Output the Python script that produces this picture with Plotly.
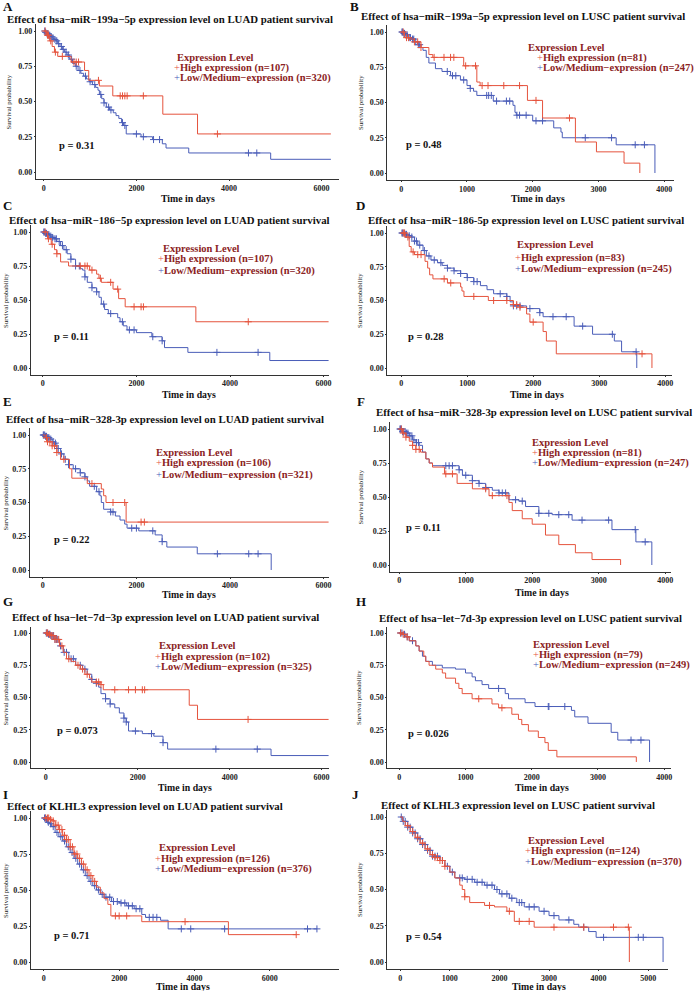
import plotly.graph_objects as go

W, H = 698, 991
RED = "#E5533D"
BLUE = "#4A5DB8"
LEG = "#8B2323"
FONT = "Liberation Serif"

# ---------------- data (days, survival probability, censor days) ----------------
A_hi_t = [60, 120, 180, 230, 300, 590, 880, 970, 1200, 1490, 2570, 3320, 6200]
A_hi_s = [0.97, 0.93, 0.89, 0.85, 0.82, 0.78, 0.72, 0.65, 0.61, 0.54, 0.41, 0.27, 0.27]
A_hi_c = [30, 80, 100, 150, 250, 400, 650, 700, 750, 1180, 1650, 1700, 1750, 1800, 2150, 3750]
A_lo_t = [30, 60, 100, 140, 180, 220, 260, 300, 350, 400, 450, 500, 560, 620, 680, 740, 800, 860, 920, 980,
          1050, 1120, 1170, 1200, 1250, 1300, 1350, 1420, 1500, 1560, 1620, 1680, 1720, 1780, 2100, 2350, 2560,
          2640, 3130, 4900, 6200]
A_lo_s = [0.99, 0.98, 0.97, 0.96, 0.95, 0.94, 0.93, 0.91, 0.89, 0.87, 0.85, 0.83, 0.80, 0.77, 0.75, 0.72, 0.70,
          0.68, 0.66, 0.64, 0.62, 0.60, 0.58, 0.55, 0.52, 0.49, 0.46, 0.44, 0.42, 0.40, 0.38, 0.35, 0.33, 0.27,
          0.25, 0.23, 0.20, 0.17, 0.135, 0.09, 0.09]
A_lo_c = [20, 40, 70, 90, 110, 130, 160, 200, 240, 280, 320, 380, 420, 480, 530, 600, 700, 780, 900, 1000, 1100,
          1230, 1300, 1400, 1450, 1700, 1750, 2000, 2150, 2370, 2500, 4420, 4600]

B_hi_t = [50, 120, 200, 300, 420, 480, 950, 1150, 1200, 1920, 2150, 2650, 2970, 3390, 3630]
B_hi_s = [0.96, 0.95, 0.93, 0.89, 0.84, 0.82, 0.76, 0.645, 0.62, 0.515, 0.39, 0.22, 0.15, 0.07, 0.0]
B_hi_c = [30, 80, 110, 200, 250, 300, 500, 650, 750, 800, 980, 1130, 1230, 1320, 1560, 1800, 2050, 2560]
B_lo_t = [30, 60, 100, 150, 200, 250, 300, 330, 380, 420, 520, 620, 750, 900, 1000, 1050, 1100, 1150, 1400, 1700,
          1730, 1750, 2000, 2320, 2430, 2450, 3270, 3860]
B_lo_s = [0.99, 0.98, 0.96, 0.95, 0.93, 0.91, 0.89, 0.87, 0.82, 0.78, 0.74, 0.72, 0.69, 0.66, 0.62, 0.60, 0.58,
          0.55, 0.51, 0.48, 0.43, 0.41, 0.37, 0.32, 0.29, 0.25, 0.20, 0.0]
B_lo_c = [10, 20, 40, 50, 70, 90, 120, 140, 170, 190, 220, 260, 280, 700, 780, 830, 950, 1050, 1300, 1330, 1370,
          1450, 1600, 1650, 1760, 1800, 1900, 2050, 2150, 2800, 3200, 3560, 3700]

C_hi_t = [100, 180, 250, 300, 380, 550, 1000, 1150, 1200, 1250, 1500, 1620, 1760, 3270, 6200]
C_hi_s = [0.95, 0.91, 0.87, 0.84, 0.78, 0.75, 0.72, 0.69, 0.66, 0.63, 0.58, 0.51, 0.45, 0.34, 0.34]
C_hi_c = [50, 120, 200, 300, 800, 900, 950, 1050, 1230, 1450, 1600, 1950, 2100, 2150, 4390]
C_lo_t = [50, 100, 150, 200, 250, 300, 380, 450, 520, 600, 700, 800, 850, 900, 950, 1050, 1150, 1200, 1250, 1320,
          1400, 1600, 1650, 1720, 1800, 2000, 2330, 2550, 2600, 3100, 4850, 6200]
C_lo_s = [0.99, 0.98, 0.97, 0.96, 0.95, 0.93, 0.90, 0.87, 0.84, 0.80, 0.75, 0.73, 0.72, 0.67, 0.63, 0.59, 0.56,
          0.52, 0.47, 0.43, 0.40, 0.37, 0.34, 0.31, 0.28, 0.26, 0.23, 0.20, 0.15, 0.115, 0.055, 0.055]
C_lo_c = [20, 40, 60, 80, 110, 130, 170, 210, 260, 290, 350, 420, 500, 600, 700, 780, 900, 1050, 1150, 1300, 1450,
          1700, 1850, 1950, 2350, 2550, 3720, 4600]

D_hi_t = [60, 120, 150, 200, 360, 400, 430, 480, 700, 900, 920, 950, 1320, 1700, 1800, 1900, 1950, 2150, 2200,
          2350, 3800]
D_hi_s = [0.97, 0.90, 0.86, 0.84, 0.79, 0.74, 0.69, 0.66, 0.63, 0.60, 0.57, 0.53, 0.50, 0.47, 0.45, 0.40, 0.34,
          0.27, 0.20, 0.105, 0.0]
D_hi_c = [30, 50, 100, 180, 250, 300, 650, 750, 1100, 1400, 1600, 1700, 1750, 1800, 2000, 3650]
D_lo_t = [50, 100, 150, 200, 250, 330, 380, 450, 550, 620, 700, 800, 900, 1000, 1100, 1200, 1300, 1400, 1600,
          1650, 1700, 1900, 2100, 2150, 2620, 2900, 3230, 3340, 3570]
D_lo_s = [0.99, 0.98, 0.97, 0.94, 0.91, 0.87, 0.83, 0.80, 0.78, 0.76, 0.74, 0.72, 0.70, 0.67, 0.64, 0.61, 0.58,
          0.55, 0.53, 0.49, 0.46, 0.44, 0.41, 0.38, 0.31, 0.25, 0.20, 0.12, 0.0]
D_lo_c = [10, 20, 40, 60, 80, 120, 160, 200, 230, 280, 350, 420, 500, 600, 700, 800, 900, 1000, 1100, 1150, 1500,
          1600, 1700, 1750, 1800, 1950, 2100, 2300, 2500, 2750, 3200, 3560]

E_hi_t = [50, 100, 200, 300, 380, 570, 620, 950, 1250, 1300, 1350, 1780, 6300]
E_hi_s = [0.98, 0.95, 0.92, 0.87, 0.82, 0.75, 0.68, 0.64, 0.60, 0.55, 0.50, 0.355, 0.355]
E_hi_c = [80, 100, 150, 200, 250, 300, 450, 1050, 1500, 1750, 2100, 2170, 6280]
E_lo_t = [50, 100, 150, 200, 250, 300, 380, 450, 550, 650, 800, 900, 950, 1000, 1150, 1220, 1250, 1300, 1450,
          1550, 1650, 1750, 1800, 2050, 2400, 2550, 2650, 3300, 4880]
E_lo_s = [0.99, 0.98, 0.97, 0.95, 0.94, 0.90, 0.86, 0.82, 0.78, 0.75, 0.72, 0.69, 0.66, 0.62, 0.58, 0.55, 0.50,
          0.45, 0.43, 0.40, 0.37, 0.34, 0.31, 0.29, 0.26, 0.21, 0.17, 0.12, 0.0]
E_lo_c = [10, 20, 40, 60, 80, 110, 130, 170, 220, 270, 330, 400, 480, 550, 700, 800, 900, 1100, 1200, 1450, 1500,
          1900, 2000, 2350, 2550, 3730, 4400, 4600]

F_hi_t = [50, 100, 150, 200, 250, 320, 400, 450, 500, 680, 870, 1100, 1350, 1650, 1700, 1850, 2000, 2200, 2400,
          2650, 2900, 3330]
F_hi_s = [0.97, 0.94, 0.91, 0.88, 0.85, 0.83, 0.78, 0.75, 0.72, 0.67, 0.60, 0.56, 0.51, 0.46, 0.40, 0.34, 0.30,
          0.22, 0.15, 0.09, 0.04, 0.0]
F_hi_c = [30, 60, 100, 200, 250, 300, 700, 800, 1300, 1400, 1620]
F_lo_t = [50, 100, 150, 200, 250, 300, 350, 400, 450, 500, 900, 950, 1100, 1200, 1300, 1400, 1500, 1650, 1800,
          1900, 2100, 2300, 2600, 3200, 3560, 3800]
F_lo_s = [0.98, 0.97, 0.95, 0.92, 0.90, 0.88, 0.83, 0.78, 0.75, 0.73, 0.70, 0.66, 0.62, 0.60, 0.57, 0.55, 0.53,
          0.48, 0.47, 0.43, 0.38, 0.37, 0.33, 0.26, 0.17, 0.0]
F_lo_c = [10, 20, 30, 50, 70, 90, 110, 130, 160, 190, 220, 260, 290, 700, 750, 800, 900, 1000, 1100, 1200, 1300,
          1500, 1550, 1600, 1750, 1850, 2100, 2250, 2400, 2550, 2750, 3150, 3550, 3700]

G_hi_t = [50, 100, 200, 300, 380, 450, 550, 650, 750, 850, 950, 1000, 1200, 1250, 3120, 3300, 6300]
G_hi_s = [0.99, 0.98, 0.95, 0.90, 0.85, 0.80, 0.78, 0.75, 0.72, 0.68, 0.65, 0.62, 0.60, 0.56, 0.44, 0.33, 0.33]
G_hi_c = [20, 40, 80, 120, 160, 200, 240, 280, 350, 500, 700, 800, 900, 1100, 1150, 1200, 1500, 1800, 1950, 2100,
          2150, 4400]
G_lo_t = [50, 100, 200, 300, 380, 500, 650, 800, 900, 1000, 1100, 1150, 1200, 1300, 1400, 1500, 1600, 1700, 1750,
          1800, 2100, 2350, 2550, 2650, 4900, 6350]
G_lo_s = [0.99, 0.98, 0.95, 0.90, 0.85, 0.80, 0.75, 0.72, 0.68, 0.64, 0.61, 0.58, 0.53, 0.49, 0.45, 0.42, 0.38,
          0.34, 0.31, 0.24, 0.22, 0.20, 0.15, 0.10, 0.05, 0.05]
G_lo_c = [10, 30, 60, 90, 110, 140, 170, 200, 230, 260, 320, 400, 450, 550, 600, 750, 850, 1000, 1100, 1300, 1400,
          1700, 1750, 1950, 2300, 2550, 3700, 4600, 6350]

H_hi_t = [50, 100, 150, 250, 300, 370, 400, 450, 550, 650, 700, 850, 900, 950, 1100, 1400, 1500, 1700, 1800, 1850,
          1950, 2100, 2200, 2250, 2380, 3580]
H_hi_s = [0.99, 0.97, 0.94, 0.90, 0.86, 0.82, 0.78, 0.75, 0.72, 0.69, 0.65, 0.61, 0.57, 0.53, 0.49, 0.45, 0.42,
          0.37, 0.33, 0.29, 0.24, 0.19, 0.15, 0.09, 0.04, 0.0]
H_hi_c = [20, 60, 120, 1200, 1550]
H_lo_t = [50, 100, 150, 250, 300, 350, 400, 500, 650, 850, 1000, 1100, 1150, 1250, 1350, 1600, 1650, 1900, 2050,
          2600, 2650, 2850, 3200, 3300, 3780]
H_lo_s = [0.99, 0.97, 0.94, 0.90, 0.86, 0.82, 0.78, 0.75, 0.73, 0.72, 0.69, 0.66, 0.63, 0.60, 0.57, 0.53, 0.49,
          0.46, 0.43, 0.40, 0.35, 0.30, 0.23, 0.17, 0.0]
H_lo_c = [20, 40, 80, 120, 200, 1500, 2250, 2260, 2500, 3500, 3650]

I_hi_t = [150, 200, 300, 400, 500, 600, 700, 800, 900, 1000, 1100, 1200, 1300, 1400, 1500, 1600, 1700, 1780, 2600,
          4900, 6700]
I_hi_s = [0.99, 0.98, 0.95, 0.92, 0.88, 0.85, 0.80, 0.75, 0.72, 0.68, 0.64, 0.60, 0.56, 0.52, 0.48, 0.44, 0.40,
          0.32, 0.28, 0.19, 0.19]
I_hi_c = [50, 100, 130, 180, 250, 320, 380, 420, 480, 550, 600, 650, 700, 760, 820, 880, 950, 1050, 1150, 1250,
          1350, 1900, 2000, 2200, 3750, 6700]
I_lo_t = [50, 100, 150, 200, 300, 400, 500, 600, 700, 800, 900, 1000, 1100, 1200, 1300, 1400, 1500, 1600, 1800,
          2000, 2200, 2400, 2600, 2700, 3100, 3300, 7250]
I_lo_s = [0.99, 0.97, 0.96, 0.94, 0.90, 0.87, 0.84, 0.80, 0.76, 0.72, 0.68, 0.64, 0.60, 0.56, 0.53, 0.50, 0.47,
          0.45, 0.42, 0.41, 0.39, 0.37, 0.33, 0.31, 0.29, 0.23, 0.23]
I_lo_c = [20, 40, 70, 120, 180, 250, 350, 450, 550, 650, 750, 850, 950, 1050, 1150, 1250, 1350, 1450, 1550, 1650,
          1750, 1850, 1950, 2050, 2150, 2250, 2350, 2450, 2550, 2800, 2900, 3000, 3650, 3900, 4800, 7000, 7250]

J_hi_t = [50, 100, 200, 300, 400, 500, 600, 700, 800, 900, 1000, 1100, 1200, 1250, 1300, 1400, 1700, 1900, 2150,
          2300, 2700, 4620]
J_hi_s = [0.97, 0.94, 0.90, 0.86, 0.82, 0.78, 0.74, 0.72, 0.70, 0.66, 0.62, 0.58, 0.53, 0.50, 0.45, 0.41, 0.39,
          0.38, 0.35, 0.28, 0.24, 0.0]
J_hi_c = [150, 250, 350, 450, 550, 650, 700, 750, 800, 850, 900, 1300, 1800, 2200, 2400, 2600, 3100, 3700, 4300,
          4600]
J_lo_t = [50, 150, 250, 350, 450, 550, 650, 800, 900, 1000, 1100, 1300, 1500, 1700, 1900, 2000, 2200, 2350, 2500,
          2800, 3000, 3200, 3500, 3600, 3800, 3950, 5300]
J_lo_s = [0.97, 0.93, 0.89, 0.85, 0.81, 0.77, 0.73, 0.70, 0.66, 0.62, 0.58, 0.57, 0.55, 0.53, 0.50, 0.47, 0.44,
          0.41, 0.38, 0.35, 0.32, 0.29, 0.26, 0.24, 0.21, 0.17, 0.0]
J_lo_c = [20, 60, 100, 150, 200, 250, 300, 350, 400, 450, 500, 550, 600, 650, 700, 750, 850, 950, 1050, 1200, 1250,
          1350, 1450, 1550, 1650, 1750, 1850, 1950, 2050, 2150, 2250, 2400, 2450, 2600, 2700, 2900, 3100, 3400,
          3700, 4100, 4800, 4900]

LETTERS = ["A", "B", "C", "D", "E", "F", "G", "H", "I", "J"]
TITLES = [
    "Effect of hsa\u2212miR\u2212199a\u22125p expression level on LUAD patient survival",
    "Effect of hsa\u2212miR\u2212199a\u22125p expression level on LUSC patient survival",
    "Effect of hsa\u2212miR\u2212186\u22125p expression level on LUAD patient survival",
    "Effect of hsa\u2212miR\u2212186-5p expression level on LUSC patient survival",
    "Effect of hsa\u2212miR\u2212328-3p expression level on LUAD patient survival",
    "Effect of hsa\u2212miR\u2212328-3p expression level on LUSC patient survival",
    "Effect of hsa\u2212let\u22127d\u22123p expression level on LUAD patient survival",
    "Effect of hsa\u2212let\u22127d-3p expression level on LUSC patient survival",
    "Effect of KLHL3 expression level on LUAD patient survival",
    "Effect of KLHL3 expression level on LUSC patient survival",
]
N_HIGH = [107, 81, 107, 83, 106, 81, 102, 79, 126, 124]
N_LOW = [320, 247, 320, 245, 321, 247, 325, 249, 376, 370]
P_VALUES = ["0.31", "0.48", "0.11", "0.28", "0.22", "0.11", "0.073", "0.026", "0.71", "0.54"]
X_TICKS_LUAD = [0, 2000, 4000, 6000]
X_TICKS_LUSC = [0, 1000, 2000, 3000, 4000]
X_TICKS_J = [0, 1000, 2000, 3000, 4000, 5000]
Y_TICKS = [0.0, 0.25, 0.5, 0.75, 1.0]

SERIES = [
    (A_hi_t, A_hi_s, A_hi_c, A_lo_t, A_lo_s, A_lo_c),
    (B_hi_t, B_hi_s, B_hi_c, B_lo_t, B_lo_s, B_lo_c),
    (C_hi_t, C_hi_s, C_hi_c, C_lo_t, C_lo_s, C_lo_c),
    (D_hi_t, D_hi_s, D_hi_c, D_lo_t, D_lo_s, D_lo_c),
    (E_hi_t, E_hi_s, E_hi_c, E_lo_t, E_lo_s, E_lo_c),
    (F_hi_t, F_hi_s, F_hi_c, F_lo_t, F_lo_s, F_lo_c),
    (G_hi_t, G_hi_s, G_hi_c, G_lo_t, G_lo_s, G_lo_c),
    (H_hi_t, H_hi_s, H_hi_c, H_lo_t, H_lo_s, H_lo_c),
    (I_hi_t, I_hi_s, I_hi_c, I_lo_t, I_lo_s, I_lo_c),
    (J_hi_t, J_hi_s, J_hi_c, J_lo_t, J_lo_s, J_lo_c),
]
XTICKS = [X_TICKS_LUAD, X_TICKS_LUSC, X_TICKS_LUAD, X_TICKS_LUSC, X_TICKS_LUAD,
          X_TICKS_LUSC, X_TICKS_LUAD, X_TICKS_LUSC, X_TICKS_LUAD, X_TICKS_J]

# ---------------- layout geometry (pixels) ----------------
# axis_left, axis_right, px of x=0, px of tick T, T, px of y=1, px of y=0
GEOM = [
    (36, 340, 44, 323, 6000, 31, 172),
    (389, 677, 403, 667, 4000, 32, 173),
    (31, 330, 43, 325, 6000, 232, 368),
    (389, 675, 403, 668, 4000, 233, 368),
    (30, 330, 43, 325, 6000, 435, 570),
    (392, 674, 401, 668, 4000, 429, 565),
    (31, 330, 46, 323, 6000, 633, 762),
    (389, 674, 401, 667, 4000, 633, 762),
    (31, 340, 44, 271, 6000, 818, 962),
    (389, 671, 402, 651, 5000, 817, 962),
]
LETTER_POS = [(1, 6), (349, 6), (1, 205), (356, 205), (1, 401), (357, 401), (1, 601), (356, 601), (1, 794), (352, 794)]
TITLE_POS = [(171, 19), (525, 16), (170, 220), (528, 220), (166, 419), (536, 412), (166, 617), (533, 618),
             (146, 806), (520, 805)]
LEG_POS = [(174, 57, 68, 78), (538, 48, 58, 68), (158, 248, 259, 271), (516, 245, 258, 269), (156, 452, 463, 475),
           (533, 442, 453, 463), (155, 645, 657, 667), (534, 644, 655, 665), (155, 847, 859, 869),
           (526, 840, 851, 862)]
LEG_HDR_X = [177, 529, 163, 518, 156, 533, 159, 534, 159, 529]
P_POS = [(57, 145), (406, 144), (52, 336), (408, 336), (52, 539), (406, 527), (55, 730), (408, 733), (52, 935),
         (406, 936)]
XLAB_POS = [(189, 198), (540, 198), (190, 395), (539, 395), (190, 594), (544, 592), (186, 787), (544, 787),
            (184, 986), (541, 986)]
YLAB_X = [9, 362, 6, 361, 6, 362, 6, 360, 5, 361]


def fx(px):
    return px / W


def fy(py):
    return 1 - py / H


def step_at(times, surv, t):
    v = 1.0
    for tt, ss in zip(times, surv):
        if tt <= t:
            v = ss
        else:
            break
    return v


fig = go.Figure()
annotations = []
layout_axes = {}

for i in range(10):
    L, R, x0, xT, T, y1, y0 = GEOM[i]
    sx = (xT - x0) / T
    span = y0 - y1
    top = y1 - 0.05 * span
    bot = y0 + 0.05 * span
    xr = [(L - x0) / sx, (R - x0) / sx]
    yr = [-(bot - y0) / span, 1 + (y1 - top) / span]
    xname = "xaxis" if i == 0 else f"xaxis{i + 1}"
    yname = "yaxis" if i == 0 else f"yaxis{i + 1}"
    xref = "x" if i == 0 else f"x{i + 1}"
    yref = "y" if i == 0 else f"y{i + 1}"
    common = dict(showline=True, linecolor="#333333", linewidth=1, ticks="outside", ticklen=1,
                  tickcolor="#333333", showgrid=False, zeroline=False,
                  tickfont=dict(family=FONT, size=8, color="#222222", weight="bold"))
    layout_axes[xname] = dict(domain=[fx(L), fx(R)], range=xr, anchor=yref, tickvals=XTICKS[i],
                              tickformat="d", **common)
    layout_axes[yname] = dict(domain=[fy(bot), fy(top)], range=yr, anchor=xref, tickvals=Y_TICKS,
                              tickformat=".2f", **common)

    hi_t, hi_s, hi_c, lo_t, lo_s, lo_c = SERIES[i]
    for times, surv, cens, col in ((lo_t, lo_s, lo_c, BLUE), (hi_t, hi_s, hi_c, RED)):
        fig.add_trace(go.Scatter(x=[0] + times, y=[1.0] + surv, mode="lines", line=dict(color=col, width=1),
                                 line_shape="hv", xaxis=xref, yaxis=yref, showlegend=False, hoverinfo="skip"))
        fig.add_trace(go.Scatter(x=cens, y=[step_at(times, surv, c) for c in cens], mode="markers",
                                 marker=dict(symbol="cross-thin", size=5, line=dict(color=col, width=1)),
                                 xaxis=xref, yaxis=yref, showlegend=False, hoverinfo="skip"))

    # panel letter
    annotations.append(dict(x=fx(LETTER_POS[i][0]), y=fy(LETTER_POS[i][1]), xref="paper", yref="paper",
                            text=f"<b>{LETTERS[i]}</b>", showarrow=False, xanchor="left", yanchor="middle",
                            font=dict(family=FONT, size=13, color="#111111")))
    # title
    annotations.append(dict(x=fx(TITLE_POS[i][0]), y=fy(TITLE_POS[i][1]), xref="paper", yref="paper",
                            text=f"<b>{TITLES[i]}</b>", showarrow=False, xanchor="center", yanchor="middle",
                            font=dict(family=FONT, size=10.8, color="#111111")))
    # legend
    gx, hy, r1, r2 = LEG_POS[i]
    annotations.append(dict(x=fx(LEG_HDR_X[i]), y=fy(hy), xref="paper", yref="paper",
                            text="<b>Expression Level</b>", showarrow=False, xanchor="left", yanchor="middle",
                            font=dict(family=FONT, size=10.5, color=LEG), borderpad=0))
    annotations.append(dict(x=fx(gx), y=fy(r1), xref="paper", yref="paper",
                            text=f"<span style='color:{RED}'>+</span><b>High expression (n={N_HIGH[i]})</b>",
                            showarrow=False, xanchor="left", yanchor="middle",
                            font=dict(family=FONT, size=10.5, color=LEG), borderpad=0))
    annotations.append(dict(x=fx(gx), y=fy(r2), xref="paper", yref="paper",
                            text=f"<span style='color:{BLUE}'>+</span><b>Low/Medium\u2212expression (n={N_LOW[i]})</b>",
                            showarrow=False, xanchor="left", yanchor="middle",
                            font=dict(family=FONT, size=10.5, color=LEG), borderpad=0))
    # p value
    annotations.append(dict(x=fx(P_POS[i][0]), y=fy(P_POS[i][1]), xref="paper", yref="paper",
                            text=f"<b>p = {P_VALUES[i]}</b>", showarrow=False, xanchor="left", yanchor="middle",
                            font=dict(family=FONT, size=10.5, color="#111111")))
    # axis labels
    annotations.append(dict(x=fx(XLAB_POS[i][0]), y=fy(XLAB_POS[i][1]), xref="paper", yref="paper",
                            text="<b>Time in days</b>", showarrow=False, xanchor="center", yanchor="middle",
                            font=dict(family=FONT, size=9.8, color="#111111"), borderpad=0))
    annotations.append(dict(x=fx(YLAB_X[i]), y=fy((top + bot) / 2), xref="paper", yref="paper",
                            text="Survival probability", showarrow=False, textangle=-90,
                            xanchor="center", yanchor="middle",
                            font=dict(family=FONT, size=6.8, color="#111111")))

fig.update_layout(width=W, height=H, margin=dict(l=0, r=0, t=0, b=0), paper_bgcolor="white",
                  plot_bgcolor="white", showlegend=False, annotations=annotations, **layout_axes)

fig.write_html("out.html", config={"displayModeBar": False},
               post_script="document.body.style.margin='0';document.body.style.overflow='hidden';")
